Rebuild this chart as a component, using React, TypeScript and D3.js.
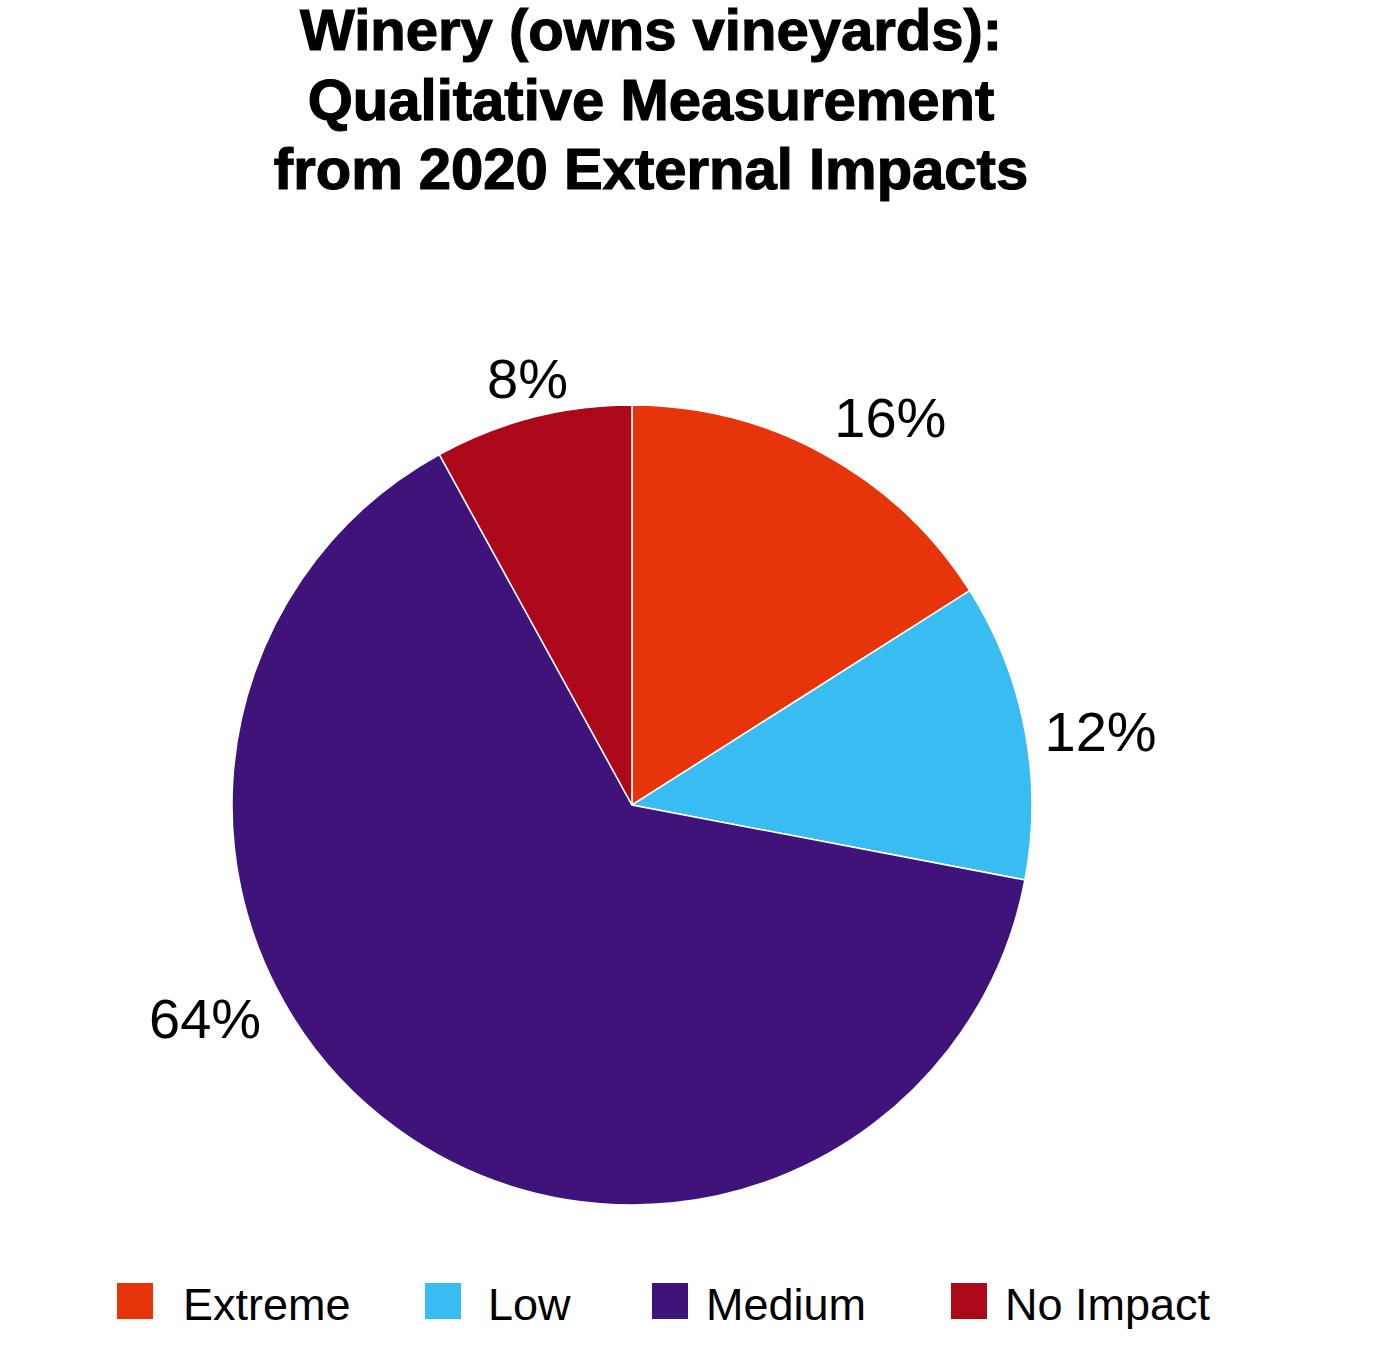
import React from "react";
import * as d3 from "d3";

const categories = ["Extreme", "Low", "Medium", "No Impact"];
const values = [16, 12, 64, 8];
const colors = ["#E8340B", "#38BCF2", "#3E147A", "#AD0819"];
const titleLines = [
  "Winery (owns vineyards):",
  "Qualitative Measurement",
  "from 2020 External Impacts",
];
// label placement: angle override (degrees) where the chart moved the label off the mid-angle
const labelAngleOverride: (number | null)[] = [null, null, 242, null];

const W = 1389;
const H = 1372;
const cx = 632;
const cy = 805;
const R = 400;
const labelR = 420;
const FONT = "'Liberation Sans', Arial, Helvetica, sans-serif";

export default function App() {
  const pie = d3
    .pie<number>()
    .sort(null)
    .value((d) => d);
  const arcs = pie(values);
  const arcGen = d3.arc<d3.PieArcDatum<number>>().innerRadius(0).outerRadius(R);

  const legendX = d3.scaleOrdinal<string, number>().domain(categories).range([117, 425, 652, 951]);
  const legendTextDx = [66, 63, 54, 54];

  return (
    <svg width={W} height={H} style={{ display: "block", position: "absolute", left: 0, top: 0 }}>
      <rect width={W} height={H} fill="#ffffff" />
      <g transform={`translate(651,0)`}>
        {titleLines.map((t, i) => (
          <text
            key={i}
            x={0}
            y={50 + i * 69.5}
            textAnchor="middle"
            fontFamily={FONT}
            fontWeight="bold"
            fontSize={58}
            fill="#000"
            stroke="#000"
            strokeWidth={1.2}
          >
            {t}
          </text>
        ))}
      </g>
      <g transform={`translate(${cx},${cy})`}>
        {arcs.map((a, i) => (
          <path key={i} d={arcGen(a) || ""} fill={colors[i]} stroke="#ffffff" strokeWidth={1.5} />
        ))}
        {arcs.map((a, i) => {
          const mid = (a.startAngle + a.endAngle) / 2;
          const ang = labelAngleOverride[i] != null ? ((labelAngleOverride[i] as number) * Math.PI) / 180 : mid;
          const s = Math.sin(ang);
          const c = Math.cos(ang);
          const x = labelR * s;
          const y = -labelR * c;
          const anchor = s > 0.3 ? "start" : s < -0.3 ? "end" : "middle";
          const dy = c > 0.3 ? 0 : c < -0.3 ? 36 : 25;
          return (
            <text
              key={i}
              x={x}
              y={y + dy}
              textAnchor={anchor}
              fontFamily={FONT}
              fontSize={56}
              fill="#000"
            >
              {`${values[i]}%`}
            </text>
          );
        })}
      </g>
      <g>
        {categories.map((c, i) => (
          <g key={c} transform={`translate(${legendX(c)},1283)`}>
            <rect x={0} y={0} width={36} height={36} fill={colors[i]} />
            <text x={legendTextDx[i]} y={37} fontFamily={FONT} fontSize={45} fill="#000">
              {c}
            </text>
          </g>
        ))}
      </g>
    </svg>
  );
}
